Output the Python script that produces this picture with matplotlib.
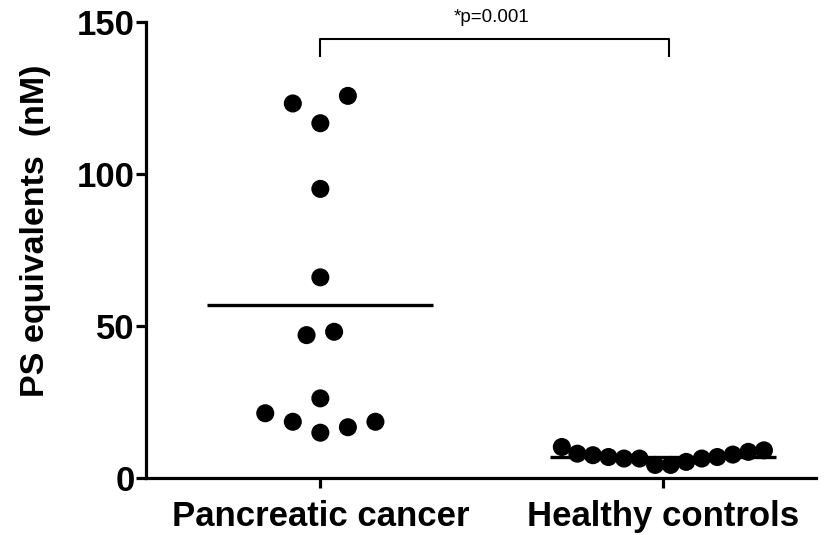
import numpy as np
import matplotlib
matplotlib.use("Agg")
import matplotlib.pyplot as plt

plt.rcParams['font.family'] = ['Liberation Sans', 'DejaVu Sans']

# ---- data ----
categories = ["Pancreatic cancer", "Healthy controls"]
pancreatic = [14.9, 16.7, 18.5, 18.5, 21.3, 26.2, 47.0, 48.1, 66.0, 95.1, 116.7, 125.7, 123.2]
healthy = [4.3, 4.3, 6.4, 5.3, 6.4, 6.4, 6.9, 6.9, 7.5, 7.7, 8.0, 8.6, 10.2, 9.1]
yticks = [0, 50, 100, 150]
p_text = "*p=0.001"
ylabel = "PS equivalents  (nM)"


def swarm_offsets(values, base_spacing=0.0804, max_width=0.59, gap=10.0):
    values = np.asarray(values, dtype=float)
    order = np.argsort(values, kind="stable")
    groups, current, start = [], [], None
    for i in order:
        if start is None or values[i] - start > gap:
            if current:
                groups.append(current)
            current, start = [i], values[i]
        else:
            current.append(i)
    if current:
        groups.append(current)
    nmax = max(len(g) for g in groups)
    spacing = base_spacing if nmax < 2 else min(base_spacing, max_width / (nmax - 1))
    offs = np.zeros(len(values))
    for g in groups:
        g = sorted(g)
        n = len(g)
        for k, idx in enumerate(g):
            if n % 2 == 1:
                m = (k + 1) // 2
                s = 1 if k % 2 == 1 else -1
            else:
                m = k // 2 + 0.5
                s = -1 if k % 2 == 0 else 1
            offs[idx] = s * m * spacing
    return offs


fig = plt.figure(figsize=(8.25, 5.35), dpi=100)
ax = fig.add_axes([146 / 825, 1 - 478 / 535, (816 - 146) / 825, (478 - 22) / 535])

groups = [pancreatic, healthy]
for i, vals in enumerate(groups):
    x = i + swarm_offsets(vals)
    ax.scatter(x, vals, s=13 ** 2, color="black", edgecolors="none", zorder=3, clip_on=False)
    ax.hlines(np.mean(vals), i - 0.33, i + 0.33, color="black", lw=2.4, zorder=2)

ax.set_xlim(-0.509, 1.447)
ax.set_ylim(0, 150)
ax.set_xticks(range(len(categories)))
ax.set_xticklabels(categories, fontsize=25, fontweight="bold")
ax.set_yticks(yticks)
ax.set_yticklabels([str(t) for t in yticks], fontsize=25, fontweight="bold")

for side in ["top", "right"]:
    ax.spines[side].set_visible(False)
for side in ["left", "bottom"]:
    ax.spines[side].set_linewidth(2.3)
ax.tick_params(axis="both", length=7, width=2.3, color="black")
ax.tick_params(axis="y", pad=1)
ax.tick_params(axis="x", pad=9)

# significance bracket
ax.plot([0, 0, 1.0175, 1.0175], [138.5, 144.4, 144.4, 138.5], color="black", lw=1.5,
        clip_on=False, solid_capstyle="butt")
ax.text(0.5, 151.5, p_text, ha="center", va="center", fontsize=13.5)

fig.text(36 / 825, 1 - 231 / 535, ylabel, rotation=90, ha="center", va="center",
         fontsize=24.5, fontweight="bold")

fig.savefig("out.png", dpi=100)
